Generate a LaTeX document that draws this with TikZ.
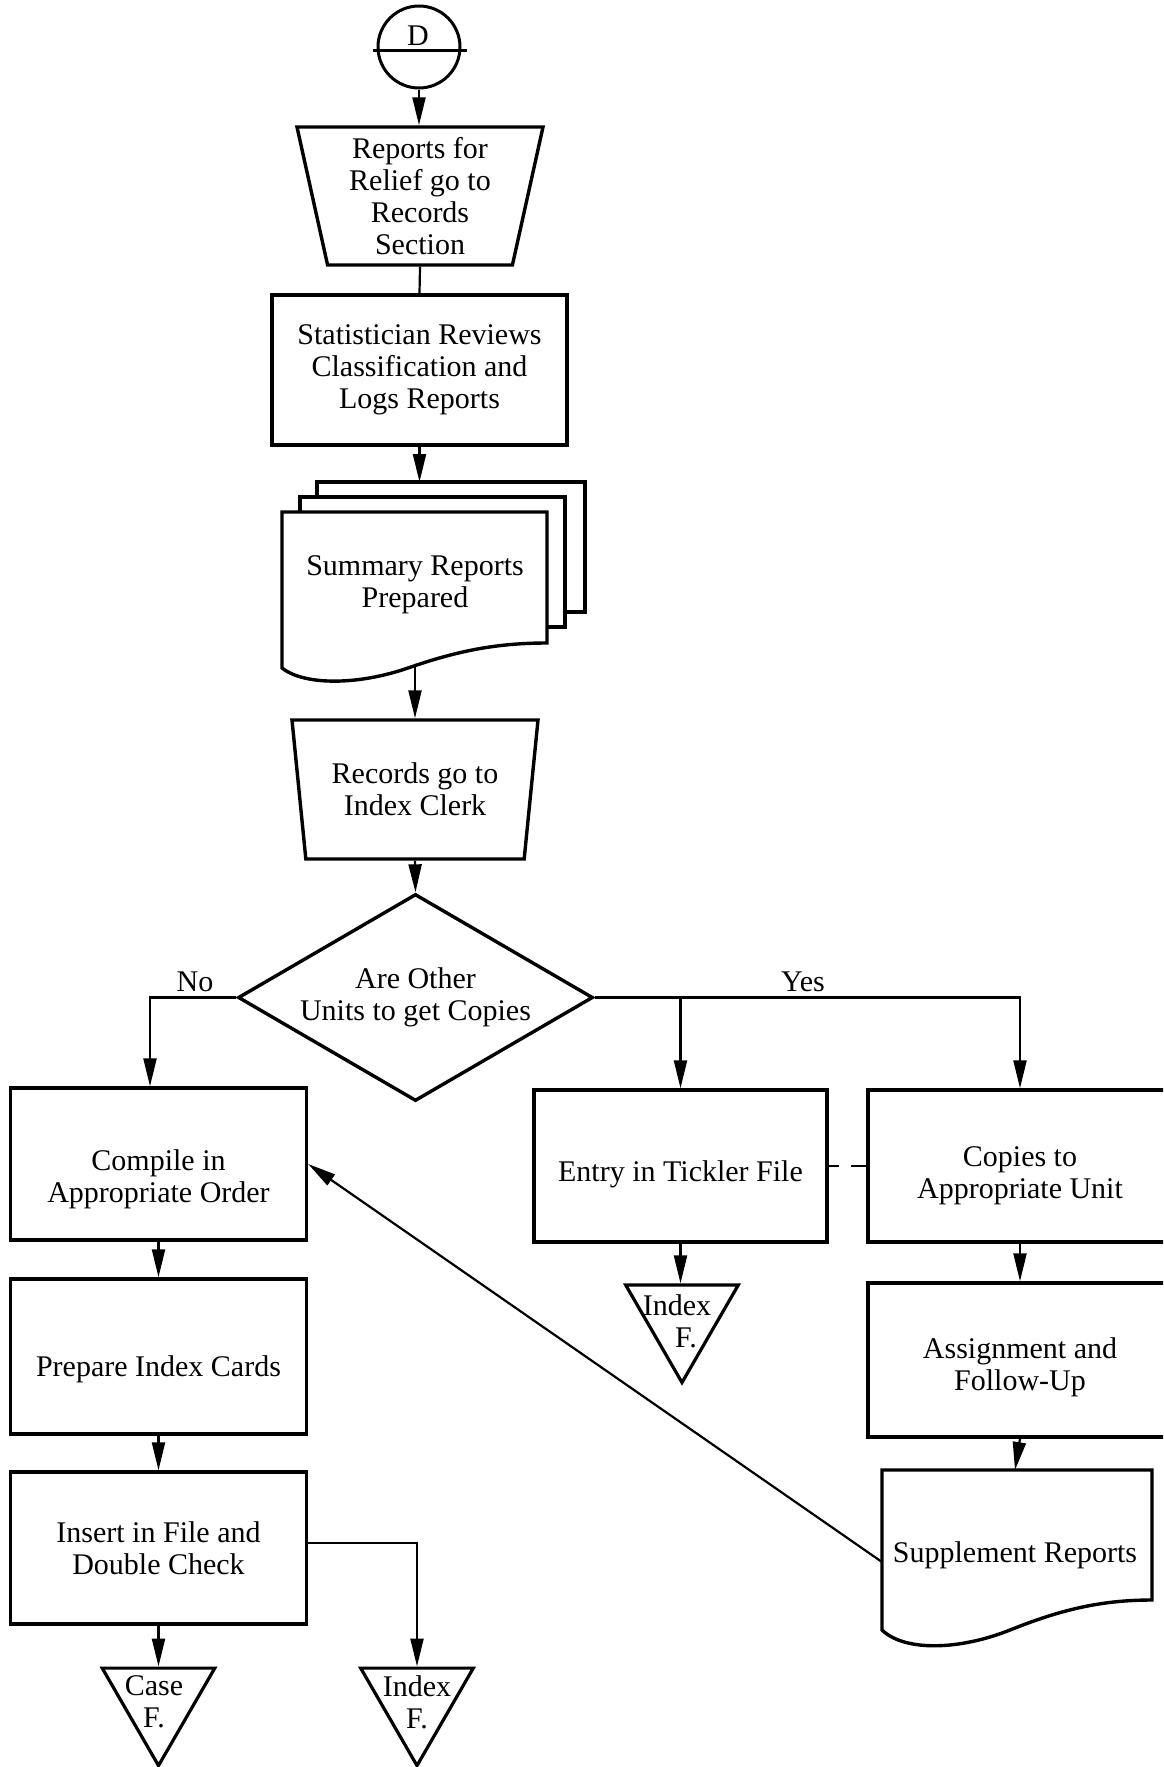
\documentclass[tikz,border=0pt]{standalone}
\usepackage{fontspec}
\setmainfont{Liberation Serif}
\usetikzlibrary{shapes.geometric,arrows.meta}
\begin{document}
\begin{tikzpicture}[x=1pt,y=-1pt,
  every node/.style={font=\fontsize{30}{32}\selectfont, align=center},
  box/.style={draw, line width=3.4pt, minimum width=296pt, minimum height=152pt, inner sep=0pt},
  trap/.style={draw, line width=3.4pt, trapezium, shape border rotate=180, trapezium angle=75.4, trapezium stretches body, minimum width=246pt, minimum height=138pt, inner sep=0pt},
  arr/.style={line width=2.2pt, -{Triangle[length=28pt,width=13pt]}},
  ln/.style={line width=2.2pt},
  shp/.style={line width=3.4pt, fill=white},
  tri/.style={draw, line width=3.2pt, regular polygon, regular polygon sides=3, shape border rotate=180, minimum size=130pt, inner sep=0pt},
  lbl/.style={inner sep=0pt}
]
\useasboundingbox (0,0) rectangle (1163,1767);
\clip (0,0) rectangle (1163,1767);

% connector D
\node[circle, draw, line width=3pt, minimum size=82pt, inner sep=0pt] (D) at (419,47) {};
\draw[line width=3pt] (373,50) -- (467,50);
\node[lbl] (Dl) at (418,36) {D};

\node[trap] (t1) at (420,196) {Reports for\\Relief go to\\Records\\Section};
\node[box, minimum width=295pt, minimum height=150pt] (stat) at (419.5,370) {Statistician Reviews\\Classification and\\Logs Reports};

% document stack
\draw[shp] (317,482) rectangle (585,612);
\draw[shp] (300,497) rectangle (565,627);
\draw[shp] (282,512) -- (547,512) -- (547,643) .. controls (496,643) and (457,651) .. (408,668) .. controls (359,685) and (305,686) .. (282,668) -- cycle;
\coordinate (sTop) at (419.5,482);
\coordinate (sBot) at (415,667);
\node (summ) at (415,585) {Summary Reports\\Prepared};

\node[trap, minimum height=139pt] (t2) at (415,789.5) {Records go to\\Index Clerk};

\node[diamond, draw, line width=3.4pt, minimum width=355pt, minimum height=207pt, aspect=1.715, inner sep=0pt] (dec) at (415.5,997.5) {Are Other\\Units to get Copies};

% left column
\node[box, label={[yshift=-15pt]center:{Compile in\\Appropriate Order}}] (comp) at (158.5,1164) {};
\node[box, minimum height=155pt, label={[yshift=-13pt]center:{Prepare Index Cards}}] (prep) at (158.5,1356.5) {};
\node[box] (ins) at (158.5,1548) {Insert in File and\\Double Check};

% right column
\node[box, minimum width=293pt, label={[yshift=-8pt]center:{Entry in Tickler File}}] (entry) at (680.5,1166) {};
\node[box, minimum width=304pt, label={[yshift=-10pt]center:{Copies to\\Appropriate Unit}}] (copies) at (1020,1166) {};
\node[box, minimum width=304pt, minimum height=154pt, label={[yshift=-7pt]center:{Assignment and\\Follow-Up}}] (assign) at (1020,1360) {};

% supplement document
\draw[shp] (882,1470) -- (1152,1470) -- (1152,1600) .. controls (1100,1600) and (1060,1610) .. (1010,1630) .. controls (960,1650) and (905,1652) .. (882,1630) -- cycle;
\node (supp) at (1015,1555) {Supplement Reports};
\coordinate (suppW) at (882,1562);
\coordinate (suppN) at (1015,1470);

% file triangles
\node[tri] (casef) at (158.5,1700.6) {};
\node[tri] (indf1) at (417,1700.6) {};
\node[tri] (indf2) at (682,1317.5) {};
\node[lbl] (casel) at (154,1702) {Case\\F.};
\node[lbl] (indl1) at (417,1702) {Index\\F.};
\node[lbl] (indl2) at (677,1321) {Index\\\hspace*{18pt}F.};

% labels
\node[lbl] (no) at (195,982) {No};
\node[lbl] (yes) at (803,982) {Yes};

% connectors
\draw[arr] (D.south) -- (D.south |- t1.north);
\draw[ln] (t1.south) -- (stat.north);
\draw[arr] (stat.south) -- (sTop);
\draw[arr] (sBot) -- (sBot |- t2.north);
\draw[arr] (t2.south) -- (dec.north);
\draw[arr] (dec.west) -| ([xshift=-8.5pt]comp.north);
\draw[arr] (dec.east) -| (copies.north);
\draw[arr] (dec.east -| entry.north) -- (entry.north);
\draw[arr] (comp.south) -- (prep.north);
\draw[arr] (prep.south) -- (ins.north);
\draw[arr] (ins.south) -- (casef.90);
\draw[arr] ([yshift=5pt]ins.east) -| (indf1.90);
\draw[arr] (entry.south) -- (entry.south |- indf2.90);
\draw[ln] (entry.east) -- ++(10,0);
\draw[ln] (copies.west) -- ++(-15,0);
\draw[arr] (copies.south) -- (assign.north);
\draw[arr] (assign.south) -- (suppN);
\draw[arr] (suppW) -- (comp.east);
\end{tikzpicture}
\end{document}
